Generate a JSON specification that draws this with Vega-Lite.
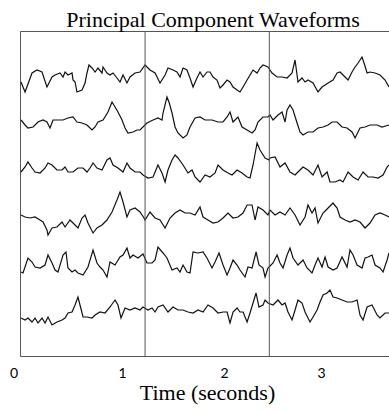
{
"$schema": "https://vega.github.io/schema/vega-lite/v6.json",
"width": 369, "height": 325,
"autosize": {"type": "none"},
"padding": {"left": 20, "top": 31, "right": 0, "bottom": 56},
"background": "white",
"title": {"text": "Principal Component Waveforms", "font": "Liberation Serif", "fontSize": 22, "fontWeight": "normal", "color": "#000", "baseline": "alphabetic", "offset": 4, "dx": 8.5, "dy": 22},
"config": {"view": {"stroke": "#555", "strokeWidth": 1}},
"layer": [
{"data": {"values": [
{"pc":1,"t":0.010,"v":27.4},{"pc":1,"t":0.050,"v":26.4},{"pc":1,"t":0.119,"v":28.3},{"pc":1,"t":0.168,"v":28.6},{"pc":1,"t":0.218,"v":28.4},{"pc":1,"t":0.267,"v":26.9},{"pc":1,"t":0.317,"v":27.9},{"pc":1,"t":0.347,"v":28.1},{"pc":1,"t":0.396,"v":28.3},{"pc":1,"t":0.426,"v":27.9},{"pc":1,"t":0.446,"v":28.4},{"pc":1,"t":0.475,"v":28.1},{"pc":1,"t":0.515,"v":28.3},{"pc":1,"t":0.525,"v":27.6},{"pc":1,"t":0.545,"v":27.4},{"pc":1,"t":0.564,"v":26.4},{"pc":1,"t":0.614,"v":26.6},{"pc":1,"t":0.644,"v":27.3},{"pc":1,"t":0.663,"v":28.3},{"pc":1,"t":0.683,"v":29.1},{"pc":1,"t":0.713,"v":28.8},{"pc":1,"t":0.743,"v":28.4},{"pc":1,"t":0.772,"v":28.8},{"pc":1,"t":0.812,"v":28.3},{"pc":1,"t":0.822,"v":28.9},{"pc":1,"t":0.861,"v":28.3},{"pc":1,"t":0.891,"v":28.1},{"pc":1,"t":0.921,"v":28.3},{"pc":1,"t":0.960,"v":27.8},{"pc":1,"t":0.990,"v":27.4},{"pc":1,"t":1.020,"v":28.1},{"pc":1,"t":1.059,"v":27.3},{"pc":1,"t":1.089,"v":27.9},{"pc":1,"t":1.139,"v":28.3},{"pc":1,"t":1.188,"v":28.4},{"pc":1,"t":1.238,"v":29.1},{"pc":1,"t":1.287,"v":28.6},{"pc":1,"t":1.337,"v":28.3},{"pc":1,"t":1.386,"v":27.3},{"pc":1,"t":1.436,"v":28.1},{"pc":1,"t":1.465,"v":28.8},{"pc":1,"t":1.515,"v":28.6},{"pc":1,"t":1.554,"v":28.4},{"pc":1,"t":1.584,"v":27.9},{"pc":1,"t":1.614,"v":28.8},{"pc":1,"t":1.653,"v":28.6},{"pc":1,"t":1.683,"v":27.8},{"pc":1,"t":1.713,"v":26.9},{"pc":1,"t":1.752,"v":27.8},{"pc":1,"t":1.782,"v":28.4},{"pc":1,"t":1.812,"v":27.9},{"pc":1,"t":1.851,"v":28.4},{"pc":1,"t":1.881,"v":28.4},{"pc":1,"t":1.911,"v":27.9},{"pc":1,"t":1.950,"v":27.6},{"pc":1,"t":1.980,"v":26.8},{"pc":1,"t":2.010,"v":27.1},{"pc":1,"t":2.050,"v":27.6},{"pc":1,"t":2.079,"v":27.4},{"pc":1,"t":2.109,"v":26.9},{"pc":1,"t":2.149,"v":26.6},{"pc":1,"t":2.178,"v":26.4},{"pc":1,"t":2.208,"v":26.9},{"pc":1,"t":2.248,"v":27.6},{"pc":1,"t":2.277,"v":28.1},{"pc":1,"t":2.307,"v":28.6},{"pc":1,"t":2.347,"v":28.3},{"pc":1,"t":2.376,"v":28.8},{"pc":1,"t":2.406,"v":29.1},{"pc":1,"t":2.455,"v":28.9},{"pc":1,"t":2.495,"v":28.3},{"pc":1,"t":2.545,"v":27.9},{"pc":1,"t":2.594,"v":27.9},{"pc":1,"t":2.644,"v":27.8},{"pc":1,"t":2.693,"v":28.3},{"pc":1,"t":2.723,"v":29.6},{"pc":1,"t":2.752,"v":27.4},{"pc":1,"t":2.792,"v":27.8},{"pc":1,"t":2.822,"v":27.4},{"pc":1,"t":2.851,"v":27.6},{"pc":1,"t":2.901,"v":27.3},{"pc":1,"t":2.950,"v":26.4},{"pc":1,"t":2.990,"v":26.9},{"pc":1,"t":3.020,"v":27.1},{"pc":1,"t":3.050,"v":27.3},{"pc":1,"t":3.099,"v":27.6},{"pc":1,"t":3.139,"v":28.3},{"pc":1,"t":3.168,"v":28.4},{"pc":1,"t":3.218,"v":27.9},{"pc":1,"t":3.248,"v":27.6},{"pc":1,"t":3.287,"v":28.4},{"pc":1,"t":3.317,"v":28.9},{"pc":1,"t":3.347,"v":29.3},{"pc":1,"t":3.386,"v":29.9},{"pc":1,"t":3.406,"v":29.3},{"pc":1,"t":3.436,"v":28.3},{"pc":1,"t":3.465,"v":28.4},{"pc":1,"t":3.515,"v":28.3},{"pc":1,"t":3.564,"v":28.1},{"pc":1,"t":3.614,"v":27.6},{"pc":1,"t":3.653,"v":26.9},
{"pc":2,"t":0.010,"v":23.6},{"pc":2,"t":0.050,"v":23.1},{"pc":2,"t":0.079,"v":22.8},{"pc":2,"t":0.129,"v":22.9},{"pc":2,"t":0.178,"v":23.4},{"pc":2,"t":0.228,"v":23.6},{"pc":2,"t":0.267,"v":23.4},{"pc":2,"t":0.297,"v":22.8},{"pc":2,"t":0.327,"v":23.6},{"pc":2,"t":0.376,"v":23.6},{"pc":2,"t":0.426,"v":23.6},{"pc":2,"t":0.475,"v":23.8},{"pc":2,"t":0.525,"v":23.9},{"pc":2,"t":0.564,"v":23.4},{"pc":2,"t":0.614,"v":23.3},{"pc":2,"t":0.663,"v":23.1},{"pc":2,"t":0.713,"v":22.6},{"pc":2,"t":0.743,"v":22.9},{"pc":2,"t":0.772,"v":23.4},{"pc":2,"t":0.822,"v":23.6},{"pc":2,"t":0.871,"v":24.4},{"pc":2,"t":0.911,"v":25.4},{"pc":2,"t":0.941,"v":24.9},{"pc":2,"t":0.970,"v":24.4},{"pc":2,"t":1.010,"v":23.6},{"pc":2,"t":1.040,"v":22.8},{"pc":2,"t":1.069,"v":22.3},{"pc":2,"t":1.119,"v":22.4},{"pc":2,"t":1.158,"v":22.6},{"pc":2,"t":1.188,"v":22.6},{"pc":2,"t":1.257,"v":23.3},{"pc":2,"t":1.317,"v":23.6},{"pc":2,"t":1.366,"v":23.8},{"pc":2,"t":1.406,"v":23.6},{"pc":2,"t":1.416,"v":24.3},{"pc":2,"t":1.455,"v":25.9},{"pc":2,"t":1.475,"v":25.4},{"pc":2,"t":1.505,"v":24.3},{"pc":2,"t":1.535,"v":22.9},{"pc":2,"t":1.564,"v":22.3},{"pc":2,"t":1.614,"v":21.8},{"pc":2,"t":1.653,"v":22.1},{"pc":2,"t":1.683,"v":22.9},{"pc":2,"t":1.733,"v":23.8},{"pc":2,"t":1.782,"v":23.9},{"pc":2,"t":1.832,"v":23.6},{"pc":2,"t":1.901,"v":23.6},{"pc":2,"t":1.960,"v":23.4},{"pc":2,"t":2.010,"v":23.4},{"pc":2,"t":2.050,"v":23.9},{"pc":2,"t":2.079,"v":24.4},{"pc":2,"t":2.109,"v":23.4},{"pc":2,"t":2.158,"v":23.9},{"pc":2,"t":2.198,"v":22.9},{"pc":2,"t":2.248,"v":22.6},{"pc":2,"t":2.297,"v":22.3},{"pc":2,"t":2.327,"v":22.6},{"pc":2,"t":2.356,"v":23.4},{"pc":2,"t":2.406,"v":23.9},{"pc":2,"t":2.455,"v":23.9},{"pc":2,"t":2.475,"v":24.1},{"pc":2,"t":2.505,"v":23.6},{"pc":2,"t":2.554,"v":24.1},{"pc":2,"t":2.594,"v":24.4},{"pc":2,"t":2.624,"v":23.4},{"pc":2,"t":2.644,"v":24.6},{"pc":2,"t":2.673,"v":25.1},{"pc":2,"t":2.703,"v":24.6},{"pc":2,"t":2.743,"v":23.3},{"pc":2,"t":2.772,"v":22.4},{"pc":2,"t":2.802,"v":22.1},{"pc":2,"t":2.851,"v":22.4},{"pc":2,"t":2.901,"v":22.4},{"pc":2,"t":2.950,"v":22.8},{"pc":2,"t":3.000,"v":22.9},{"pc":2,"t":3.050,"v":23.1},{"pc":2,"t":3.089,"v":23.4},{"pc":2,"t":3.139,"v":23.4},{"pc":2,"t":3.188,"v":22.9},{"pc":2,"t":3.238,"v":22.8},{"pc":2,"t":3.287,"v":22.4},{"pc":2,"t":3.317,"v":21.8},{"pc":2,"t":3.366,"v":22.8},{"pc":2,"t":3.416,"v":22.9},{"pc":2,"t":3.465,"v":23.1},{"pc":2,"t":3.535,"v":23.1},{"pc":2,"t":3.584,"v":22.9},{"pc":2,"t":3.653,"v":23.1},
{"pc":3,"t":0.010,"v":18.4},{"pc":3,"t":0.050,"v":18.9},{"pc":3,"t":0.079,"v":19.4},{"pc":3,"t":0.119,"v":18.8},{"pc":3,"t":0.149,"v":18.4},{"pc":3,"t":0.198,"v":18.3},{"pc":3,"t":0.248,"v":18.8},{"pc":3,"t":0.277,"v":19.3},{"pc":3,"t":0.317,"v":19.1},{"pc":3,"t":0.366,"v":18.6},{"pc":3,"t":0.416,"v":18.6},{"pc":3,"t":0.446,"v":18.9},{"pc":3,"t":0.475,"v":18.4},{"pc":3,"t":0.525,"v":18.4},{"pc":3,"t":0.574,"v":18.8},{"pc":3,"t":0.624,"v":18.8},{"pc":3,"t":0.663,"v":18.4},{"pc":3,"t":0.693,"v":18.8},{"pc":3,"t":0.723,"v":19.3},{"pc":3,"t":0.762,"v":18.8},{"pc":3,"t":0.812,"v":18.6},{"pc":3,"t":0.861,"v":19.6},{"pc":3,"t":0.891,"v":19.8},{"pc":3,"t":0.921,"v":19.1},{"pc":3,"t":0.970,"v":18.8},{"pc":3,"t":1.020,"v":18.4},{"pc":3,"t":1.059,"v":19.3},{"pc":3,"t":1.089,"v":18.8},{"pc":3,"t":1.139,"v":18.4},{"pc":3,"t":1.188,"v":18.4},{"pc":3,"t":1.218,"v":18.1},{"pc":3,"t":1.267,"v":17.8},{"pc":3,"t":1.317,"v":17.9},{"pc":3,"t":1.366,"v":19.1},{"pc":3,"t":1.406,"v":18.3},{"pc":3,"t":1.436,"v":17.4},{"pc":3,"t":1.465,"v":18.6},{"pc":3,"t":1.505,"v":19.6},{"pc":3,"t":1.535,"v":20.1},{"pc":3,"t":1.564,"v":19.8},{"pc":3,"t":1.614,"v":19.1},{"pc":3,"t":1.663,"v":18.3},{"pc":3,"t":1.703,"v":18.6},{"pc":3,"t":1.733,"v":17.9},{"pc":3,"t":1.782,"v":17.4},{"pc":3,"t":1.832,"v":18.1},{"pc":3,"t":1.881,"v":17.9},{"pc":3,"t":1.931,"v":18.3},{"pc":3,"t":1.960,"v":19.1},{"pc":3,"t":2.010,"v":18.6},{"pc":3,"t":2.059,"v":18.3},{"pc":3,"t":2.099,"v":18.1},{"pc":3,"t":2.149,"v":18.6},{"pc":3,"t":2.198,"v":18.3},{"pc":3,"t":2.248,"v":17.9},{"pc":3,"t":2.277,"v":17.8},{"pc":3,"t":2.307,"v":19.1},{"pc":3,"t":2.347,"v":21.3},{"pc":3,"t":2.376,"v":20.6},{"pc":3,"t":2.426,"v":19.8},{"pc":3,"t":2.465,"v":19.6},{"pc":3,"t":2.475,"v":19.8},{"pc":3,"t":2.525,"v":19.9},{"pc":3,"t":2.574,"v":18.9},{"pc":3,"t":2.624,"v":19.3},{"pc":3,"t":2.673,"v":18.4},{"pc":3,"t":2.723,"v":18.1},{"pc":3,"t":2.752,"v":18.4},{"pc":3,"t":2.802,"v":18.9},{"pc":3,"t":2.851,"v":18.6},{"pc":3,"t":2.901,"v":18.1},{"pc":3,"t":2.950,"v":19.1},{"pc":3,"t":2.990,"v":17.9},{"pc":3,"t":3.040,"v":18.4},{"pc":3,"t":3.069,"v":17.4},{"pc":3,"t":3.119,"v":17.4},{"pc":3,"t":3.168,"v":17.6},{"pc":3,"t":3.198,"v":17.4},{"pc":3,"t":3.248,"v":18.4},{"pc":3,"t":3.297,"v":17.9},{"pc":3,"t":3.347,"v":17.6},{"pc":3,"t":3.396,"v":18.4},{"pc":3,"t":3.446,"v":17.9},{"pc":3,"t":3.495,"v":17.9},{"pc":3,"t":3.545,"v":17.8},{"pc":3,"t":3.594,"v":18.1},{"pc":3,"t":3.634,"v":18.9},{"pc":3,"t":3.653,"v":19.1},
{"pc":4,"t":0.010,"v":14.1},{"pc":4,"t":0.050,"v":13.9},{"pc":4,"t":0.099,"v":13.8},{"pc":4,"t":0.149,"v":13.9},{"pc":4,"t":0.198,"v":13.6},{"pc":4,"t":0.228,"v":13.4},{"pc":4,"t":0.267,"v":12.6},{"pc":4,"t":0.277,"v":12.1},{"pc":4,"t":0.317,"v":12.8},{"pc":4,"t":0.366,"v":12.9},{"pc":4,"t":0.416,"v":13.4},{"pc":4,"t":0.446,"v":12.9},{"pc":4,"t":0.495,"v":13.6},{"pc":4,"t":0.525,"v":13.3},{"pc":4,"t":0.574,"v":12.8},{"pc":4,"t":0.614,"v":13.8},{"pc":4,"t":0.644,"v":14.1},{"pc":4,"t":0.673,"v":13.3},{"pc":4,"t":0.723,"v":12.3},{"pc":4,"t":0.762,"v":12.8},{"pc":4,"t":0.812,"v":13.1},{"pc":4,"t":0.861,"v":13.6},{"pc":4,"t":0.911,"v":14.4},{"pc":4,"t":0.960,"v":15.6},{"pc":4,"t":0.990,"v":16.4},{"pc":4,"t":1.020,"v":15.4},{"pc":4,"t":1.059,"v":13.9},{"pc":4,"t":1.089,"v":14.6},{"pc":4,"t":1.139,"v":14.8},{"pc":4,"t":1.188,"v":14.4},{"pc":4,"t":1.228,"v":13.8},{"pc":4,"t":1.238,"v":13.6},{"pc":4,"t":1.287,"v":14.4},{"pc":4,"t":1.337,"v":13.8},{"pc":4,"t":1.386,"v":13.6},{"pc":4,"t":1.436,"v":12.8},{"pc":4,"t":1.485,"v":13.8},{"pc":4,"t":1.535,"v":14.3},{"pc":4,"t":1.584,"v":14.6},{"pc":4,"t":1.634,"v":14.3},{"pc":4,"t":1.683,"v":14.3},{"pc":4,"t":1.733,"v":14.1},{"pc":4,"t":1.782,"v":14.9},{"pc":4,"t":1.812,"v":13.9},{"pc":4,"t":1.861,"v":13.6},{"pc":4,"t":1.911,"v":13.3},{"pc":4,"t":1.960,"v":13.4},{"pc":4,"t":2.010,"v":13.8},{"pc":4,"t":2.059,"v":14.3},{"pc":4,"t":2.109,"v":13.8},{"pc":4,"t":2.158,"v":13.9},{"pc":4,"t":2.208,"v":14.3},{"pc":4,"t":2.248,"v":15.1},{"pc":4,"t":2.297,"v":15.1},{"pc":4,"t":2.327,"v":13.6},{"pc":4,"t":2.356,"v":14.9},{"pc":4,"t":2.406,"v":14.6},{"pc":4,"t":2.455,"v":14.1},{"pc":4,"t":2.475,"v":14.6},{"pc":4,"t":2.525,"v":14.1},{"pc":4,"t":2.574,"v":14.4},{"pc":4,"t":2.624,"v":14.1},{"pc":4,"t":2.673,"v":14.8},{"pc":4,"t":2.723,"v":14.1},{"pc":4,"t":2.772,"v":13.1},{"pc":4,"t":2.822,"v":13.9},{"pc":4,"t":2.851,"v":15.1},{"pc":4,"t":2.891,"v":14.3},{"pc":4,"t":2.921,"v":14.8},{"pc":4,"t":2.950,"v":13.3},{"pc":4,"t":3.000,"v":14.3},{"pc":4,"t":3.050,"v":14.8},{"pc":4,"t":3.099,"v":15.3},{"pc":4,"t":3.139,"v":14.8},{"pc":4,"t":3.168,"v":13.9},{"pc":4,"t":3.218,"v":13.6},{"pc":4,"t":3.267,"v":13.4},{"pc":4,"t":3.317,"v":13.6},{"pc":4,"t":3.366,"v":13.4},{"pc":4,"t":3.416,"v":12.8},{"pc":4,"t":3.465,"v":13.3},{"pc":4,"t":3.515,"v":14.1},{"pc":4,"t":3.564,"v":14.3},{"pc":4,"t":3.614,"v":14.1},{"pc":4,"t":3.653,"v":13.9},
{"pc":5,"t":0.010,"v":8.4},{"pc":5,"t":0.030,"v":8.3},{"pc":5,"t":0.079,"v":9.8},{"pc":5,"t":0.119,"v":9.4},{"pc":5,"t":0.149,"v":8.9},{"pc":5,"t":0.198,"v":8.8},{"pc":5,"t":0.248,"v":9.1},{"pc":5,"t":0.277,"v":10.1},{"pc":5,"t":0.317,"v":9.3},{"pc":5,"t":0.347,"v":8.6},{"pc":5,"t":0.376,"v":8.4},{"pc":5,"t":0.426,"v":10.1},{"pc":5,"t":0.455,"v":10.4},{"pc":5,"t":0.475,"v":8.8},{"pc":5,"t":0.515,"v":8.4},{"pc":5,"t":0.545,"v":8.6},{"pc":5,"t":0.574,"v":8.3},{"pc":5,"t":0.624,"v":8.1},{"pc":5,"t":0.673,"v":8.9},{"pc":5,"t":0.723,"v":10.6},{"pc":5,"t":0.762,"v":9.3},{"pc":5,"t":0.792,"v":8.9},{"pc":5,"t":0.822,"v":8.6},{"pc":5,"t":0.861,"v":7.9},{"pc":5,"t":0.891,"v":9.4},{"pc":5,"t":0.941,"v":9.1},{"pc":5,"t":0.990,"v":9.9},{"pc":5,"t":1.020,"v":10.1},{"pc":5,"t":1.059,"v":10.8},{"pc":5,"t":1.089,"v":9.8},{"pc":5,"t":1.119,"v":10.1},{"pc":5,"t":1.168,"v":9.8},{"pc":5,"t":1.218,"v":10.2},{"pc":5,"t":1.257,"v":9.3},{"pc":5,"t":1.307,"v":9.3},{"pc":5,"t":1.337,"v":9.6},{"pc":5,"t":1.366,"v":10.9},{"pc":5,"t":1.416,"v":10.3},{"pc":5,"t":1.455,"v":9.8},{"pc":5,"t":1.505,"v":8.6},{"pc":5,"t":1.554,"v":8.8},{"pc":5,"t":1.584,"v":8.4},{"pc":5,"t":1.614,"v":9.1},{"pc":5,"t":1.653,"v":8.4},{"pc":5,"t":1.683,"v":8.3},{"pc":5,"t":1.713,"v":10.4},{"pc":5,"t":1.762,"v":10.3},{"pc":5,"t":1.812,"v":10.4},{"pc":5,"t":1.851,"v":9.8},{"pc":5,"t":1.901,"v":8.8},{"pc":5,"t":1.931,"v":9.4},{"pc":5,"t":1.970,"v":10.3},{"pc":5,"t":2.010,"v":9.1},{"pc":5,"t":2.050,"v":8.1},{"pc":5,"t":2.079,"v":8.8},{"pc":5,"t":2.109,"v":9.6},{"pc":5,"t":2.149,"v":9.1},{"pc":5,"t":2.178,"v":8.6},{"pc":5,"t":2.228,"v":7.9},{"pc":5,"t":2.257,"v":8.9},{"pc":5,"t":2.297,"v":8.8},{"pc":5,"t":2.337,"v":10.4},{"pc":5,"t":2.366,"v":9.1},{"pc":5,"t":2.406,"v":8.8},{"pc":5,"t":2.426,"v":7.9},{"pc":5,"t":2.455,"v":8.8},{"pc":5,"t":2.505,"v":9.3},{"pc":5,"t":2.545,"v":10.1},{"pc":5,"t":2.574,"v":9.3},{"pc":5,"t":2.604,"v":8.8},{"pc":5,"t":2.644,"v":10.1},{"pc":5,"t":2.673,"v":10.8},{"pc":5,"t":2.703,"v":9.8},{"pc":5,"t":2.752,"v":9.1},{"pc":5,"t":2.802,"v":9.6},{"pc":5,"t":2.842,"v":8.8},{"pc":5,"t":2.891,"v":8.3},{"pc":5,"t":2.921,"v":9.1},{"pc":5,"t":2.950,"v":9.8},{"pc":5,"t":2.990,"v":8.9},{"pc":5,"t":3.020,"v":9.9},{"pc":5,"t":3.050,"v":8.9},{"pc":5,"t":3.099,"v":8.6},{"pc":5,"t":3.139,"v":8.8},{"pc":5,"t":3.188,"v":9.9},{"pc":5,"t":3.238,"v":8.9},{"pc":5,"t":3.267,"v":10.6},{"pc":5,"t":3.297,"v":10.1},{"pc":5,"t":3.337,"v":9.1},{"pc":5,"t":3.386,"v":8.8},{"pc":5,"t":3.416,"v":9.8},{"pc":5,"t":3.446,"v":9.9},{"pc":5,"t":3.485,"v":10.1},{"pc":5,"t":3.515,"v":9.1},{"pc":5,"t":3.564,"v":8.8},{"pc":5,"t":3.594,"v":8.4},{"pc":5,"t":3.634,"v":9.6},{"pc":5,"t":3.653,"v":10.3},
{"pc":6,"t":0.010,"v":3.8},{"pc":6,"t":0.050,"v":3.6},{"pc":6,"t":0.079,"v":3.8},{"pc":6,"t":0.119,"v":3.4},{"pc":6,"t":0.149,"v":3.8},{"pc":6,"t":0.178,"v":3.3},{"pc":6,"t":0.218,"v":3.8},{"pc":6,"t":0.248,"v":3.3},{"pc":6,"t":0.277,"v":3.9},{"pc":6,"t":0.317,"v":3.1},{"pc":6,"t":0.366,"v":3.4},{"pc":6,"t":0.416,"v":3.6},{"pc":6,"t":0.446,"v":3.8},{"pc":6,"t":0.475,"v":4.3},{"pc":6,"t":0.515,"v":4.4},{"pc":6,"t":0.545,"v":5.1},{"pc":6,"t":0.574,"v":5.9},{"pc":6,"t":0.594,"v":5.1},{"pc":6,"t":0.624,"v":3.9},{"pc":6,"t":0.663,"v":3.9},{"pc":6,"t":0.713,"v":3.8},{"pc":6,"t":0.743,"v":4.1},{"pc":6,"t":0.792,"v":4.4},{"pc":6,"t":0.842,"v":4.3},{"pc":6,"t":0.891,"v":4.9},{"pc":6,"t":0.941,"v":5.6},{"pc":6,"t":0.970,"v":5.1},{"pc":6,"t":1.000,"v":3.8},{"pc":6,"t":1.040,"v":4.8},{"pc":6,"t":1.089,"v":4.6},{"pc":6,"t":1.139,"v":4.8},{"pc":6,"t":1.188,"v":4.6},{"pc":6,"t":1.218,"v":4.9},{"pc":6,"t":1.267,"v":4.6},{"pc":6,"t":1.307,"v":4.8},{"pc":6,"t":1.337,"v":4.4},{"pc":6,"t":1.366,"v":4.9},{"pc":6,"t":1.416,"v":5.1},{"pc":6,"t":1.465,"v":4.4},{"pc":6,"t":1.515,"v":4.9},{"pc":6,"t":1.564,"v":4.6},{"pc":6,"t":1.614,"v":4.6},{"pc":6,"t":1.663,"v":4.4},{"pc":6,"t":1.713,"v":4.3},{"pc":6,"t":1.762,"v":4.6},{"pc":6,"t":1.812,"v":4.4},{"pc":6,"t":1.861,"v":5.1},{"pc":6,"t":1.911,"v":4.8},{"pc":6,"t":1.960,"v":4.3},{"pc":6,"t":2.010,"v":4.4},{"pc":6,"t":2.050,"v":4.4},{"pc":6,"t":2.079,"v":3.3},{"pc":6,"t":2.109,"v":4.4},{"pc":6,"t":2.149,"v":4.8},{"pc":6,"t":2.178,"v":4.4},{"pc":6,"t":2.208,"v":4.4},{"pc":6,"t":2.248,"v":3.4},{"pc":6,"t":2.277,"v":4.3},{"pc":6,"t":2.307,"v":5.3},{"pc":6,"t":2.337,"v":6.3},{"pc":6,"t":2.366,"v":4.9},{"pc":6,"t":2.406,"v":5.1},{"pc":6,"t":2.426,"v":5.6},{"pc":6,"t":2.455,"v":5.3},{"pc":6,"t":2.505,"v":5.1},{"pc":6,"t":2.554,"v":5.6},{"pc":6,"t":2.594,"v":5.1},{"pc":6,"t":2.624,"v":5.3},{"pc":6,"t":2.653,"v":4.4},{"pc":6,"t":2.693,"v":3.6},{"pc":6,"t":2.723,"v":4.6},{"pc":6,"t":2.752,"v":5.6},{"pc":6,"t":2.792,"v":5.3},{"pc":6,"t":2.822,"v":4.4},{"pc":6,"t":2.871,"v":3.4},{"pc":6,"t":2.901,"v":3.9},{"pc":6,"t":2.941,"v":4.6},{"pc":6,"t":2.970,"v":5.4},{"pc":6,"t":3.000,"v":6.1},{"pc":6,"t":3.040,"v":6.3},{"pc":6,"t":3.069,"v":6.6},{"pc":6,"t":3.099,"v":5.9},{"pc":6,"t":3.139,"v":5.8},{"pc":6,"t":3.188,"v":5.6},{"pc":6,"t":3.238,"v":5.4},{"pc":6,"t":3.287,"v":5.4},{"pc":6,"t":3.337,"v":5.6},{"pc":6,"t":3.366,"v":4.1},{"pc":6,"t":3.396,"v":3.6},{"pc":6,"t":3.436,"v":4.9},{"pc":6,"t":3.485,"v":5.1},{"pc":6,"t":3.535,"v":4.1},{"pc":6,"t":3.564,"v":3.8},{"pc":6,"t":3.614,"v":4.3},{"pc":6,"t":3.653,"v":4.3}
]},
"mark": {"type": "line", "stroke": "#111", "strokeWidth": 1.2, "clip": true},
"encoding": {
"x": {"field": "t", "type": "quantitative", "scale": {"domain": [0, 3.653], "nice": false, "zero": false},
"axis": {"values": [0, 1, 2, 3], "format": "d", "title": "Time (seconds)", "titleFont": "Liberation Serif", "titleFontSize": 22, "titleFontWeight": "normal", "titleColor": "#000", "titlePadding": 2, "titleX": 187, "labelFont": "Lato", "labelFontSize": 14, "labelColor": "#000", "labelPadding": 10, "ticks": false, "tickSize": 0, "domain": false, "grid": false, "labelFlush": false, "labelOffset": {"expr": "datum.value === 0 ? -6.5 : (datum.value === 3 ? -2 : (datum.value === 2 ? 2 : 1))"}}},
"y": {"field": "v", "type": "quantitative", "scale": {"domain": [0, 32.5], "nice": false, "zero": false}, "axis": null},
"detail": {"field": "pc", "type": "nominal"}
}},
{"data": {"values": [{"t": 1.238}, {"t": 2.468}]},
"mark": {"type": "rule", "stroke": "#555", "strokeWidth": 1},
"encoding": {"x": {"field": "t", "type": "quantitative"}}}
]
}
